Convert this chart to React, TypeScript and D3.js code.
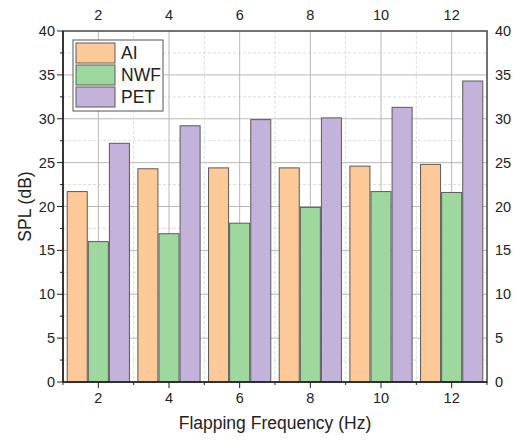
import React from "react";
import * as d3 from "d3";

const categories = ["2", "4", "6", "8", "10", "12"];
const seriesNames = ["AI", "NWF", "PET"];
const aiValues = [21.7, 24.3, 24.4, 24.4, 24.6, 24.8];
const nwfValues = [16.0, 16.9, 18.1, 19.9, 21.7, 21.6];
const petValues = [27.2, 29.2, 29.9, 30.1, 31.3, 34.3];
const yTicks = [0, 5, 10, 15, 20, 25, 30, 35, 40];
const yMinorTicks = [2.5, 7.5, 12.5, 17.5, 22.5, 27.5, 32.5, 37.5];

const colors = ["#fdc998", "#9fd89e", "#c3b2da"];
const font = "Arial, 'Liberation Sans', sans-serif";

const App = () => {
  const width = 516;
  const height = 441;
  const margin = { top: 31, right: 29, bottom: 59, left: 63 };
  const x0 = margin.left;
  const x1 = width - margin.right;
  const y0 = height - margin.bottom;
  const y1 = margin.top;

  const series = [aiValues, nwfValues, petValues];

  const xScale = d3.scaleBand().domain(categories).range([x0, x1]).padding(0);
  const inner = d3
    .scaleBand()
    .domain(seriesNames)
    .range([0, xScale.bandwidth()])
    .paddingInner(0.05)
    .paddingOuter(0.2);
  const yScale = d3.scaleLinear().domain([0, 40]).range([y0, y1]);

  const boundaries = categories.slice(1).map((c) => xScale(c)!);

  return (
    <svg width={width} height={height} style={{ position: "absolute", left: 0, top: 0, background: "#fff" }}>
      {/* grid */}
      {yMinorTicks.map((t) => (
        <line key={"ym" + t} x1={x0} x2={x1} y1={yScale(t)} y2={yScale(t)} stroke="#d4d4d4" strokeDasharray="3,2" strokeWidth={0.8} />
      ))}
      {yTicks.slice(1, -1).map((t) => (
        <line key={"y" + t} x1={x0} x2={x1} y1={yScale(t)} y2={yScale(t)} stroke="#b8b8b8" strokeWidth={1} />
      ))}
      {boundaries.map((b, i) => (
        <line key={"xm" + i} x1={b} x2={b} y1={y1} y2={y0} stroke="#d4d4d4" strokeDasharray="3,2" strokeWidth={0.8} />
      ))}
      {categories.map((c) => (
        <line key={"x" + c} x1={xScale(c)! + xScale.bandwidth() / 2} x2={xScale(c)! + xScale.bandwidth() / 2} y1={y1} y2={y0} stroke="#b8b8b8" strokeWidth={1} />
      ))}

      {/* bars */}
      {series.map((vals, si) =>
        vals.map((v, i) => (
          <rect
            key={si + "-" + i}
            x={xScale(categories[i])! + inner(seriesNames[si])!}
            y={yScale(v)}
            width={inner.bandwidth()}
            height={yScale(0) - yScale(v)}
            fill={colors[si]}
            stroke="#5a5a5a"
            strokeWidth={1}
          />
        ))
      )}

      {/* frame */}
      <rect x={x0} y={y1} width={x1 - x0} height={y0 - y1} fill="none" stroke="#444" strokeWidth={1.5} />
      <line x1={x0} x2={x0} y1={y1} y2={y0} stroke="#222" strokeWidth={1.5} />
      <line x1={x0} x2={x1} y1={y0} y2={y0} stroke="#222" strokeWidth={1.5} />

      {/* left / right axis labels */}
      {yTicks.map((t) => (
        <g key={"lt" + t}>
          <line x1={x0 - 6} x2={x0} y1={yScale(t)} y2={yScale(t)} stroke="#222" strokeWidth={1} />
          <text x={x0 - 8} y={yScale(t)} dy="0.35em" textAnchor="end" fontFamily={font} fontSize={14.5} fill="#222">{t}</text>
          <text x={x1 + 8} y={yScale(t)} dy="0.35em" textAnchor="start" fontFamily={font} fontSize={14.5} fill="#222">{t}</text>
        </g>
      ))}
      {yMinorTicks.map((t) => (
        <line key={"lmt" + t} x1={x0 - 3} x2={x0} y1={yScale(t)} y2={yScale(t)} stroke="#222" strokeWidth={1} />
      ))}

      {/* bottom / top axis labels */}
      {categories.map((c) => {
        const cx = xScale(c)! + xScale.bandwidth() / 2;
        return (
          <g key={"bt" + c}>
            <line x1={cx} x2={cx} y1={y0} y2={y0 + 6} stroke="#222" strokeWidth={1} />
            <text x={cx} y={y0 + 21} textAnchor="middle" fontFamily={font} fontSize={14.5} fill="#222">{c}</text>
            <text x={cx} y={y1 - 11} textAnchor="middle" fontFamily={font} fontSize={14.5} fill="#222">{c}</text>
          </g>
        );
      })}
      {[x0, ...boundaries, x1].map((b, i) => (
        <line key={"bmt" + i} x1={b} x2={b} y1={y0} y2={y0 + 3} stroke="#222" strokeWidth={1} />
      ))}

      {/* axis titles */}
      <text x={(x0 + x1) / 2} y={y0 + 47} textAnchor="middle" fontFamily={font} fontSize={17.5} fill="#222">
        Flapping Frequency (Hz)
      </text>
      <text transform={`translate(31, ${(y0 + y1) / 2}) rotate(-90)`} textAnchor="middle" fontFamily={font} fontSize={17.5} fill="#222">
        SPL (dB)
      </text>

      {/* legend */}
      <g transform="translate(73, 40)">
        <rect x={0} y={0} width={90} height={71} fill="#fff" stroke="#555" strokeWidth={1} />
        {seriesNames.map((n, i) => (
          <g key={n} transform={`translate(3, ${3 + i * 22})`}>
            <rect x={0} y={0} width={39} height={20} fill={colors[i]} stroke="#5a5a5a" strokeWidth={1} />
            <text x={45} y={10} dy="0.36em" fontFamily={font} fontSize={17.5} fill="#222">{n}</text>
          </g>
        ))}
      </g>
    </svg>
  );
};

export default App;
